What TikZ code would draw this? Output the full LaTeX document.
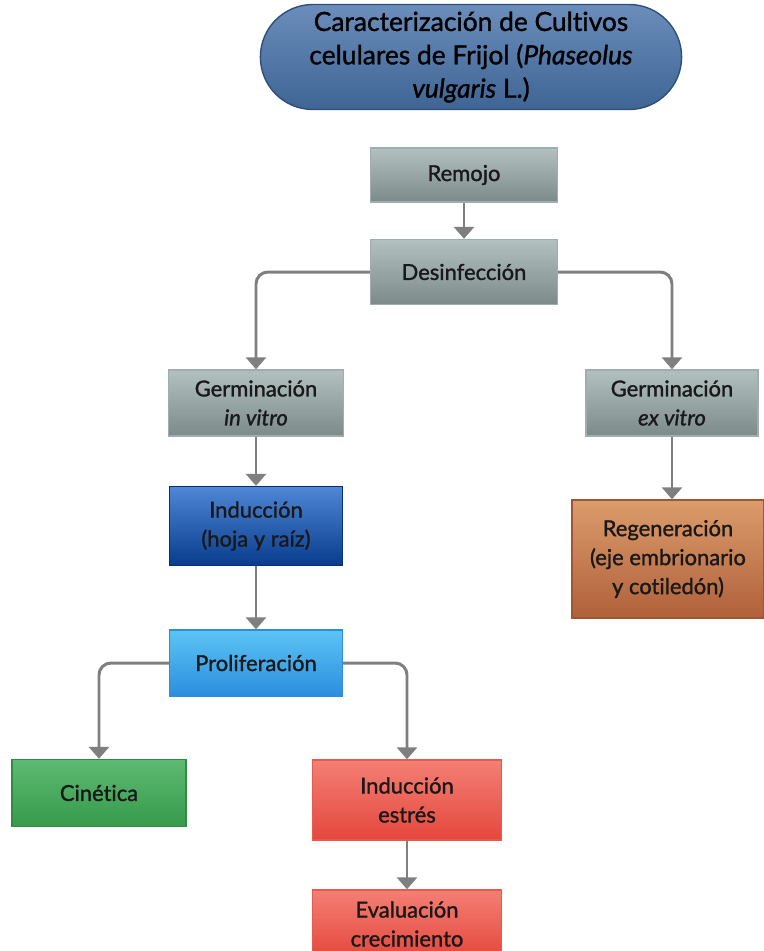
\documentclass[tikz,border=0pt]{standalone}
\usepackage{fontspec}
\setmainfont{Lato}[FakeBold=1.3, Ligatures=NoCommon]
\usepackage{tikz}
\usetikzlibrary{arrows.meta, positioning, shapes.misc}
\definecolor{titleTop}{HTML}{6B8DBB}
\definecolor{titleBot}{HTML}{3E6594}
\definecolor{titleLine}{HTML}{2F4F7A}
\definecolor{grayTop}{HTML}{B2C0BF}
\definecolor{grayBot}{HTML}{7C8B8A}
\definecolor{grayLine}{HTML}{9EAEAD}
\definecolor{navyTop}{HTML}{4F86D6}
\definecolor{navyBot}{HTML}{083C8C}
\definecolor{skyTop}{HTML}{5CC4F4}
\definecolor{skyBot}{HTML}{2B8EDE}
\definecolor{leafTop}{HTML}{5DBA72}
\definecolor{leafBot}{HTML}{369A4B}
\definecolor{coralTop}{HTML}{F47F74}
\definecolor{coralBot}{HTML}{E5473D}
\definecolor{rustTop}{HTML}{DC9C6C}
\definecolor{rustBot}{HTML}{B0603A}
\definecolor{linkGray}{HTML}{7F7F7F}

\begin{document}
\begin{tikzpicture}[
    x=0.02cm, y=-0.02cm,
    box/.style={draw, line width=0.8pt, font=\fontsize{12.5}{16.5}\selectfont,
                align=center, text=black!90, inner sep=2pt},
    graybox/.style={box, top color=grayTop, bottom color=grayBot, draw=grayLine},
    titlebox/.style={draw=titleLine, line width=0.8pt, rounded rectangle,
                     top color=titleTop, bottom color=titleBot,
                     font=\fontsize{15}{19}\selectfont, align=center,
                     minimum width=8.66cm, minimum height=2.1cm},
    link/.style={draw=linkGray, line width=1.7pt, rounded corners=0.24cm,
                 -{Triangle[width=0.4cm, length=0.24cm]}},
]
\useasboundingbox (0,0) rectangle (764,951);

% title
\node[titlebox] (title) at (471,57) {Caracterización de Cultivos\\
  celulares de Frijol (\textit{Phaseolus}\\ \textit{vulgaris} L.)};

% main chain
\node[graybox, minimum width=3.74cm, minimum height=1.08cm] (remojo) at (464,175) {Remojo};
\node[graybox, minimum width=3.74cm, minimum height=1.3cm] (desinf) at (464,272) {Desinfección};
\node[graybox, minimum width=3.5cm, minimum height=1.32cm] (invitro) at (256,403) {Germinación\\ \textit{in vitro}};
\node[graybox, minimum width=3.44cm, minimum height=1.32cm] (exvitro) at (672,403) {Germinación\\ \textit{ex vitro}};
\node[box, top color=navyTop, bottom color=navyBot, draw=navyBot!80!black,
      minimum width=3.46cm, minimum height=1.58cm] (induc) at (256,526) {Inducción\\ (hoja y raíz)};
\node[box, top color=rustTop, bottom color=rustBot, draw=rustBot!90!black,
      minimum width=3.84cm, minimum height=2.36cm] (regen) at (668,559) {Regeneración\\ (eje embrionario\\ y cotiledón)};
\node[box, top color=skyTop, bottom color=skyBot, draw=skyBot,
      minimum width=3.46cm, minimum height=1.32cm] (prolif) at (256,663) {Proliferación};
\node[box, top color=leafTop, bottom color=leafBot, draw=leafBot!90!black,
      minimum width=3.48cm, minimum height=1.34cm] (cinet) at (99,793) {Cinética};
\node[box, top color=coralTop, bottom color=coralBot, draw=coralBot!90!white,
      minimum width=3.78cm, minimum height=1.6cm] (estres) at (407,800) {Inducción\\ estrés};
\node[box, top color=coralTop, bottom color=coralBot, draw=coralBot!90!white,
      minimum width=3.78cm, minimum height=1.36cm] (evalua) at (407,924) {Evaluación\\ crecimiento};

% connectors
\draw[link] (remojo) -- (desinf);
\draw[link] (desinf.west) -| (invitro.north);
\draw[link] (desinf.east) -| (exvitro.north);
\draw[link] (invitro) -- (induc);
\draw[link] (exvitro.south) -- (exvitro.south |- regen.north);
\draw[link] (induc) -- (prolif);
\draw[link] (prolif.west) -| (cinet.north);
\draw[link] (prolif.east) -| (estres.north);
\draw[link] (estres) -- (evalua);
\end{tikzpicture}
\end{document}
